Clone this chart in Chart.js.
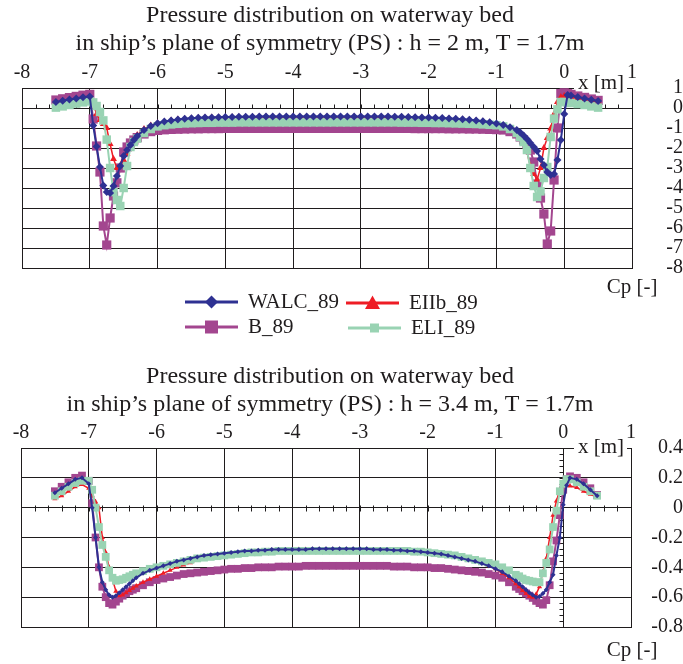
<!DOCTYPE html>
<html>
<head>
<meta charset="utf-8">
<title>Pressure distribution on waterway bed</title>
<script src="https://cdn.jsdelivr.net/npm/chart.js@4/dist/chart.umd.min.js"></script>
<style>
  body { margin: 0; background: #fff; }
  #wrap { position: relative; width: 683px; height: 664px; background: #fff; }
  canvas { position: absolute; left: 0; display: block; }
</style>
</head>
<body>
<div id="wrap">
  <canvas id="chartH2" width="683" height="340" style="top:0"></canvas>
  <canvas id="chartH34" width="683" height="324" style="top:340px"></canvas>
</div>
<script>
// x stations along the ship [m], shared by every series
const xStations = [
  -7.5, -7.4, -7.3, -7.2, -7.1, -7.0, -6.95, -6.9, -6.85, -6.8,
  -6.75, -6.7, -6.65, -6.6, -6.55, -6.5, -6.45, -6.4, -6.35, -6.3,
  -6.2, -6.1,
  -6.0, -5.9, -5.8, -5.7, -5.6, -5.5, -5.4, -5.3, -5.2, -5.1,
  -5.0, -4.9, -4.8, -4.7, -4.6, -4.5, -4.4, -4.3, -4.2, -4.1,
  -4.0, -3.9, -3.8, -3.7, -3.6, -3.5, -3.4, -3.3, -3.2, -3.1,
  -3.0, -2.9, -2.8, -2.7, -2.6, -2.5, -2.4, -2.3, -2.2, -2.1,
  -2.0, -1.9, -1.8, -1.7, -1.6, -1.5, -1.4, -1.3, -1.2, -1.1,
  -1.0, -0.9, -0.8, -0.7, -0.65, -0.6, -0.55, -0.5, -0.45, -0.4,
  -0.35, -0.3, -0.25, -0.2, -0.15, -0.1, -0.05, 0.0, 0.05, 0.1,
  0.2, 0.3, 0.4, 0.5
];

// Cp values, h = 2 m
const walcH2 = [
  0.30, 0.36, 0.42, 0.48, 0.54, 0.58, -0.87, -1.92, -2.95, -3.87,
  -4.20, -4.25, -3.90, -3.40, -2.90, -2.40, -2.10, -1.85, -1.60, -1.40,
  -1.10, -0.90,
  -0.76, -0.68, -0.62, -0.57, -0.54, -0.51, -0.49, -0.48, -0.47, -0.46,
  -0.45, -0.45, -0.44, -0.44, -0.44, -0.43, -0.43, -0.43, -0.43, -0.43,
  -0.42, -0.42, -0.42, -0.42, -0.42, -0.42, -0.42, -0.42, -0.42, -0.42,
  -0.42, -0.43, -0.43, -0.43, -0.43, -0.44, -0.44, -0.45, -0.46, -0.47,
  -0.48, -0.49, -0.50, -0.52, -0.54, -0.56, -0.59, -0.62, -0.66, -0.71,
  -0.77, -0.85, -0.96, -1.10, -1.22, -1.38, -1.55, -1.75, -1.95, -2.15,
  -2.55, -2.85, -3.20, -3.35, -3.30, -2.60, -1.60, -0.30, 0.65, 0.62,
  0.55, 0.48, 0.41, 0.35
];
const bH2 = [
  0.40, 0.46, 0.52, 0.58, 0.64, 0.68, -0.55, -1.90, -3.20, -5.90,
  -6.85, -5.50, -4.40, -3.74, -3.00, -2.20, -1.95, -1.75, -1.60, -1.48,
  -1.30, -1.18,
  -1.12, -1.09, -1.07, -1.06, -1.05, -1.04, -1.04, -1.03, -1.03, -1.03,
  -1.02, -1.02, -1.02, -1.02, -1.02, -1.02, -1.02, -1.02, -1.02, -1.02,
  -1.02, -1.02, -1.02, -1.02, -1.02, -1.02, -1.02, -1.02, -1.02, -1.02,
  -1.02, -1.02, -1.02, -1.02, -1.02, -1.02, -1.02, -1.02, -1.03, -1.03,
  -1.03, -1.03, -1.03, -1.04, -1.04, -1.04, -1.05, -1.05, -1.06, -1.07,
  -1.08, -1.10, -1.18, -1.30, -1.45, -1.60, -1.80, -2.10, -2.70, -3.80,
  -4.50, -5.30, -6.80, -6.15, -3.60, -1.00, 0.72, 0.76, 0.72, 0.68,
  0.60, 0.53, 0.45, 0.38
];
const eiibH2 = [
  0.28, 0.34, 0.40, 0.46, 0.52, 0.55, 0.20, -0.30, -0.60, -0.80,
  -1.00, -1.80, -2.55, -3.00, -2.90, -2.60, -2.30, -1.90, -1.55, -1.35,
  -1.05, -0.87,
  -0.76, -0.69, -0.63, -0.58, -0.55, -0.52, -0.50, -0.49, -0.48, -0.47,
  -0.47, -0.46, -0.46, -0.46, -0.45, -0.45, -0.45, -0.45, -0.45, -0.45,
  -0.45, -0.45, -0.45, -0.45, -0.45, -0.45, -0.45, -0.45, -0.45, -0.45,
  -0.45, -0.45, -0.45, -0.45, -0.46, -0.46, -0.46, -0.47, -0.48, -0.49,
  -0.50, -0.51, -0.52, -0.54, -0.56, -0.58, -0.61, -0.64, -0.68, -0.73,
  -0.80, -0.90, -1.05, -1.25, -1.40, -1.60, -2.20, -2.90, -3.30, -3.58,
  -3.00, -2.00, -1.50, -1.02, -0.30, 0.30, 0.55, 0.60, 0.58, 0.55,
  0.50, 0.44, 0.38, 0.32
];
const eliH2 = [
  0.02, 0.08, 0.15, 0.22, 0.28, 0.33, 0.28, 0.10, -0.20, -0.62,
  -1.58, -3.00, -4.20, -4.60, -4.90, -4.00, -2.90, -1.95, -1.70, -1.53,
  -1.25, -1.05,
  -0.92, -0.86, -0.82, -0.79, -0.77, -0.76, -0.75, -0.74, -0.74, -0.73,
  -0.73, -0.73, -0.72, -0.72, -0.72, -0.72, -0.72, -0.72, -0.72, -0.72,
  -0.72, -0.72, -0.72, -0.72, -0.72, -0.72, -0.72, -0.72, -0.72, -0.72,
  -0.72, -0.72, -0.72, -0.72, -0.72, -0.72, -0.73, -0.73, -0.73, -0.74,
  -0.74, -0.75, -0.75, -0.76, -0.77, -0.78, -0.79, -0.80, -0.82, -0.84,
  -0.86, -0.92, -1.05, -1.25, -1.45, -1.70, -2.10, -3.00, -3.90, -4.45,
  -4.17, -3.50, -2.95, -1.45, -0.53, -0.07, 0.30, 0.30, 0.28, 0.25,
  0.20, 0.15, 0.08, 0.02
];

// Cp values, h = 3.4 m
const walcH34 = [
  0.10, 0.13, 0.16, 0.19, 0.20, 0.16, 0.00, -0.20, -0.40, -0.50,
  -0.55, -0.585, -0.60, -0.59, -0.57, -0.55, -0.53, -0.51, -0.49, -0.47,
  -0.44, -0.42,
  -0.405, -0.39, -0.375, -0.36, -0.35, -0.34, -0.33, -0.32, -0.315, -0.31,
  -0.305, -0.30, -0.295, -0.29, -0.29, -0.285, -0.285, -0.28, -0.28, -0.28,
  -0.28, -0.28, -0.28, -0.275, -0.275, -0.275, -0.275, -0.275, -0.275, -0.275,
  -0.275, -0.275, -0.28, -0.28, -0.28, -0.285, -0.285, -0.29, -0.29, -0.295,
  -0.30, -0.305, -0.31, -0.32, -0.33, -0.34, -0.35, -0.36, -0.375, -0.39,
  -0.41, -0.43, -0.46, -0.49, -0.51, -0.53, -0.55, -0.57, -0.585, -0.60,
  -0.595, -0.575, -0.55, -0.50, -0.45, -0.32, -0.20, 0.02, 0.15, 0.20,
  0.19, 0.16, 0.12, 0.08
];
const bH34 = [
  0.11, 0.14, 0.17, 0.20, 0.215, 0.18, 0.03, -0.20, -0.40, -0.53,
  -0.60, -0.64, -0.65, -0.63, -0.61, -0.59, -0.575, -0.56, -0.55, -0.54,
  -0.52, -0.50,
  -0.485, -0.475, -0.465, -0.455, -0.445, -0.44, -0.435, -0.43, -0.425, -0.42,
  -0.415, -0.41, -0.41, -0.405, -0.405, -0.40, -0.40, -0.40, -0.395, -0.395,
  -0.395, -0.395, -0.39, -0.39, -0.39, -0.39, -0.39, -0.39, -0.39, -0.39,
  -0.39, -0.39, -0.39, -0.39, -0.39, -0.395, -0.395, -0.395, -0.40, -0.40,
  -0.40, -0.405, -0.405, -0.41, -0.415, -0.42, -0.425, -0.43, -0.435, -0.445,
  -0.455, -0.47, -0.50, -0.53, -0.545, -0.56, -0.575, -0.59, -0.605, -0.625,
  -0.64, -0.65, -0.62, -0.52, -0.36, -0.22, -0.05, 0.12, 0.19, 0.21,
  0.20, 0.17, 0.13, 0.085
];
const eiibH34 = [
  0.06, 0.08, 0.11, 0.14, 0.155, 0.13, 0.08, 0.04, 0.00, -0.20,
  -0.30, -0.40, -0.48, -0.56, -0.59, -0.585, -0.57, -0.555, -0.54, -0.525,
  -0.50, -0.48,
  -0.46, -0.44, -0.42, -0.40, -0.385, -0.37, -0.355, -0.345, -0.335, -0.325,
  -0.315, -0.31, -0.305, -0.30, -0.295, -0.29, -0.29, -0.285, -0.285, -0.285,
  -0.28, -0.28, -0.28, -0.28, -0.28, -0.28, -0.28, -0.28, -0.28, -0.28,
  -0.28, -0.28, -0.285, -0.285, -0.285, -0.29, -0.29, -0.295, -0.295, -0.30,
  -0.305, -0.31, -0.315, -0.32, -0.33, -0.34, -0.35, -0.36, -0.375, -0.39,
  -0.41, -0.44, -0.47, -0.51, -0.53, -0.555, -0.575, -0.595, -0.60, -0.58,
  -0.53, -0.43, -0.34, -0.20, -0.05, 0.045, 0.12, 0.15, 0.15, 0.145,
  0.135, 0.11, 0.09, 0.07
];
const eliH34 = [
  0.08, 0.11, 0.14, 0.165, 0.18, 0.18, 0.12, 0.00, -0.13, -0.25,
  -0.33, -0.42, -0.47, -0.49, -0.485, -0.48, -0.47, -0.46, -0.45, -0.44,
  -0.425, -0.41,
  -0.40, -0.39, -0.38, -0.37, -0.36, -0.35, -0.34, -0.335, -0.33, -0.325,
  -0.32, -0.315, -0.31, -0.305, -0.30, -0.30, -0.295, -0.295, -0.29, -0.29,
  -0.29, -0.29, -0.29, -0.29, -0.29, -0.29, -0.29, -0.29, -0.29, -0.29,
  -0.29, -0.29, -0.29, -0.29, -0.29, -0.29, -0.29, -0.29, -0.295, -0.295,
  -0.30, -0.305, -0.31, -0.315, -0.32, -0.33, -0.34, -0.35, -0.36, -0.37,
  -0.38, -0.40, -0.42, -0.45, -0.46, -0.475, -0.485, -0.49, -0.495, -0.50,
  -0.50, -0.44, -0.37, -0.28, -0.13, -0.02, 0.11, 0.16, 0.19, 0.19,
  0.17, 0.14, 0.11, 0.08
];

const seriesNames = ['WALC_89', 'B_89', 'EIIb_89', 'ELI_89'];
const seriesColors = ['#2e3192', '#a3468f', '#ee1c25', '#99d3b3'];
const seriesMarkers = ['rectRot', 'rect', 'triangle', 'rect'];
const drawOrder = [0, 3, 2, 1]; // blue on top, purple at the back

const FONT = '"Liberation Serif", "Times New Roman", serif';
const INK = '#1f1c1d';
Chart.defaults.font.family = FONT;
Chart.defaults.color = INK;

function makeDatasets(values, markerSizes) {
  return values.map((ys, i) => ({
    label: seriesNames[i],
    data: ys.map((y, k) => ({ x: xStations[k], y })),
    borderColor: seriesColors[i],
    backgroundColor: seriesColors[i],
    pointBackgroundColor: seriesColors[i],
    pointBorderColor: seriesColors[i],
    pointBorderWidth: 0,
    borderWidth: i === 2 ? 1.5 : 2,
    pointStyle: seriesMarkers[i],
    pointRadius: markerSizes[i],
    order: drawOrder[i]
  }));
}

// "0" without decimals, the rest as read on the axis
function cpLabel(v) {
  if (Math.abs(v) < 1e-9) return '0';
  return String(Math.round(v * 10) / 10);
}

function makeScales(yMin, yMax, yStep, yWidth, yPad) {
  return {
    x: {
      type: 'linear', position: 'top', min: -8, max: 1,
      ticks: { stepSize: 1, padding: 3, autoSkip: false, maxRotation: 0, font: { size: 20 }, color: INK },
      grid: { color: INK, lineWidth: 1, drawTicks: false },
      border: { color: INK, width: 1 },
      afterFit(scale) { scale.height = 28; }
    },
    y: {
      type: 'linear', position: 'right', min: yMin, max: yMax,
      ticks: { stepSize: yStep, padding: yPad, autoSkip: false, crossAlign: 'far', font: { size: 20 }, color: INK, callback: cpLabel },
      grid: { color: INK, lineWidth: 1, drawTicks: false },
      border: { color: INK, width: 1 },
      afterFit(scale) { scale.width = yWidth; }
    }
  };
}

// legend slots (line start x, centre y) in the order of seriesNames
const legendSlots = [[185, 302], [185, 327], [346, 303], [348, 328]];

function drawMarker(ctx, style, cx, cy, size) {
  const h = size / 2;
  ctx.beginPath();
  if (style === 'rectRot') {
    ctx.moveTo(cx, cy - h); ctx.lineTo(cx + h, cy); ctx.lineTo(cx, cy + h); ctx.lineTo(cx - h, cy);
  } else if (style === 'triangle') {
    ctx.moveTo(cx, cy - h); ctx.lineTo(cx + h, cy + h * 0.8); ctx.lineTo(cx - h, cy + h * 0.8);
  } else {
    ctx.rect(cx - h, cy - h, size, size);
  }
  ctx.closePath();
  ctx.fill();
}

function drawLegend(ctx) {
  const sizes = [13, 13, 15, 9];
  seriesNames.forEach((name, i) => {
    const [lx, ly] = legendSlots[i];
    ctx.strokeStyle = seriesColors[i];
    ctx.fillStyle = seriesColors[i];
    ctx.lineWidth = 3;
    ctx.beginPath();
    ctx.moveTo(lx, ly);
    ctx.lineTo(lx + 53, ly);
    ctx.stroke();
    drawMarker(ctx, seriesMarkers[i], lx + 26.5, ly, sizes[i]);
    ctx.fillStyle = INK;
    ctx.textAlign = 'left';
    ctx.fillText(name, lx + 63, ly);
  });
}

// titles, axis names, minor ticks and legend
const sheetPlugin = {
  id: 'sheet',
  beforeDatasetsDraw(chart, args, o) {
    const { ctx } = chart;
    const { x, y } = chart.scales;
    ctx.save();
    ctx.fillStyle = '#fff';
    ctx.fillRect(o.xName[0] - 27, o.xName[1] - 9, 53, 18);

    ctx.strokeStyle = INK;
    ctx.lineWidth = 1;
    ctx.beginPath();
    const y0 = Math.round(y.getPixelForValue(0)) + 0.5;
    for (let i = 0; i <= 45; i++) {
      const px = Math.round(x.getPixelForValue(-8 + i * 0.2)) + 0.5;
      ctx.moveTo(px, y0 - o.tickUp);
      ctx.lineTo(px, y0 + o.tickDown);
    }
    if (o.yMinorStep) {
      const x0 = Math.round(x.getPixelForValue(0)) + 0.5;
      const n = Math.round((y.max - y.min) / o.yMinorStep);
      for (let i = 0; i <= n; i++) {
        const py = Math.round(y.getPixelForValue(y.min + i * o.yMinorStep)) + 0.5;
        ctx.moveTo(x0 - 4, py);
        ctx.lineTo(x0, py);
      }
    }
    ctx.stroke();
    ctx.restore();
  },
  afterDraw(chart, args, o) {
    const ctx = chart.ctx;
    ctx.save();
    ctx.fillStyle = INK;
    ctx.textBaseline = 'middle';
    ctx.textAlign = 'center';
    ctx.font = '24px ' + FONT;
    o.title.forEach((line, i) => ctx.fillText(line, 330, o.titleY[i]));
    ctx.font = '21px ' + FONT;
    ctx.fillText('x [m]', o.xName[0], o.xName[1]);
    ctx.fillText('Cp [-]', o.cpName[0], o.cpName[1]);
    if (o.legend) drawLegend(ctx);
    ctx.restore();
  }
};

function buildChart(id, datasets, scales, padding, sheet) {
  return new Chart(document.getElementById(id), {
    type: 'line',
    data: { datasets },
    options: {
      responsive: false,
      animation: false,
      devicePixelRatio: 1,
      events: [],
      layout: { padding },
      scales,
      plugins: { legend: { display: false }, tooltip: { enabled: false }, sheet }
    },
    plugins: [sheetPlugin]
  });
}

buildChart('chartH2',
  makeDatasets([walcH2, bH2, eiibH2, eliH2], [4, 6.5, 4, 6]),
  makeScales(-8, 1, 1, 51, 6),
  { left: 22, right: 0, top: 60, bottom: 72 },
  {
    title: ['Pressure distribution on waterway bed',
            'in ship\u2019s plane of symmetry (PS) : h = 2 m, T = 1.7m'],
    titleY: [16, 44], xName: [601, 83], cpName: [632, 287],
    tickUp: 4, tickDown: 0, yMinorStep: null, legend: true
  });

buildChart('chartH34',
  makeDatasets([walcH34, bH34, eiibH34, eliH34], [2.5, 5.5, 3, 5.5]),
  makeScales(-0.8, 0.4, 0.2, 52, 10),
  { left: 21, right: 0, top: 80, bottom: 37 },
  {
    title: ['Pressure distribution on waterway bed',
            'in ship\u2019s plane of symmetry (PS) : h = 3.4 m, T = 1.7m'],
    titleY: [37, 65], xName: [601, 107], cpName: [632, 310],
    tickUp: 3, tickDown: 3, yMinorStep: 0.04, legend: false
  });
</script>
</body>
</html>
